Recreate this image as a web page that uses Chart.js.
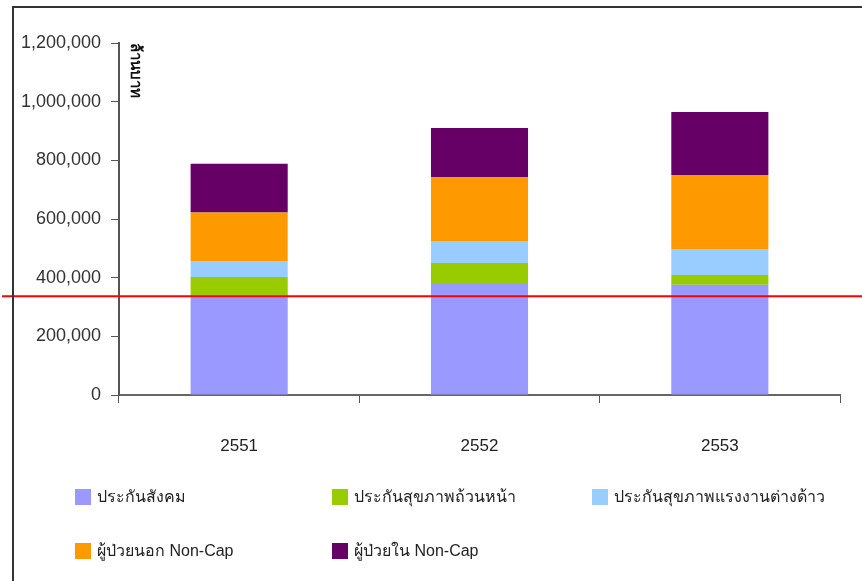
<!DOCTYPE html>
<html>
<head>
<meta charset="utf-8">
<script src="https://cdn.jsdelivr.net/npm/chart.js@4"></script>
<style>
  html, body { margin:0; padding:0; background:#fff; }
  #wrap { position:relative; width:862px; height:581px; overflow:hidden; font-family:"Liberation Sans", Arial, sans-serif; }
  #frame { position:absolute; left:12px; top:6px; width:900px; height:700px; border-left:2px solid #333; border-top:2px solid #333; pointer-events:none; }
  canvas { position:absolute; left:0; top:0; }
  #ytitle { position:absolute; left:136px; top:70px; transform:translate(-50%,-50%) rotate(90deg); font-size:15px; font-weight:bold; color:#111; white-space:nowrap; }
  #legend { position:absolute; left:75px; top:484px; display:grid; grid-template-columns:257px 260px 260px; grid-auto-rows:54px; }
  .item { display:flex; align-items:flex-start; font-size:16px; color:#222; white-space:nowrap; }
  .box { width:16px; height:16px; margin-right:6px; margin-top:5px; flex:none; }
</style>
</head>
<body>
<div id="wrap">
  <canvas id="c" width="862" height="581"></canvas>
  <div id="frame"></div>
  <div id="ytitle"></div>
  <div id="legend"></div>
</div>
<script>
const categories = ['2551', '2552', '2553'];
const seriesNames = ['ประกันสังคม', 'ประกันสุขภาพถ้วนหน้า', 'ประกันสุขภาพแรงงานต่างด้าว', 'ผู้ป่วยนอก Non-Cap', 'ผู้ป่วยใน Non-Cap'];
const socialSecurity = [335000, 382000, 376000];
const universalCoverage = [67000, 68000, 33000];
const foreignWorkers = [55000, 75000, 89000];
const outpatientNonCap = [165000, 218000, 252000];
const inpatientNonCap = [166000, 167000, 215000];
const seriesColors = ['#9999FF', '#99CC00', '#99CCFF', '#FF9900', '#660066'];
const yMin = 0, yMax = 1200000, yStep = 200000;
const referenceLineValue = 337000;
const yAxisTitle = 'ล้านบาท';

const seriesValues = [socialSecurity, universalCoverage, foreignWorkers, outpatientNonCap, inpatientNonCap];

const refLine = {
  id: 'refLine',
  afterDatasetsDraw(chart) {
    const y = chart.scales.y.getPixelForValue(referenceLineValue);
    const ctx = chart.ctx;
    ctx.save();
    ctx.strokeStyle = '#FF0000';
    ctx.lineWidth = 2;
    ctx.beginPath();
    ctx.moveTo(2, y);
    ctx.lineTo(chart.width, y);
    ctx.stroke();
    ctx.restore();
  }
};

const chart = new Chart(document.getElementById('c'), {
  type: 'bar',
  data: {
    labels: categories,
    datasets: seriesValues.map((vals, i) => ({
      label: seriesNames[i],
      data: vals,
      backgroundColor: seriesColors[i],
      borderWidth: 0,
      categoryPercentage: 1,
      barPercentage: 0.404
    }))
  },
  options: {
    responsive: false,
    animation: false,
    devicePixelRatio: 1,
    layout: { padding: { left: 0, top: 43, right: 22, bottom: 0 } },
    plugins: { legend: { display: false }, tooltip: { enabled: false } },
    scales: {
      x: {
        stacked: true,
        grid: { display: true, drawOnChartArea: false, drawTicks: true, tickLength: 8, color: '#555', offset: true },
        border: { display: true, color: '#666', width: 2 },
        ticks: { color: '#222', font: { family: '"Liberation Sans", Arial, sans-serif', size: 17 }, padding: 33 },
        afterFit(s) { s.height = 186; }
      },
      y: {
        stacked: true,
        min: yMin, max: yMax,
        grid: { display: true, drawOnChartArea: false, drawTicks: true, tickLength: 8, color: '#555' },
        border: { display: true, color: '#555', width: 2 },
        ticks: {
          stepSize: yStep,
          color: '#333',
          padding: 10,
          font: { family: '"Liberation Sans", Arial, sans-serif', size: 18 },
          callback: v => Number(v).toLocaleString('en-US')
        },
        afterFit(s) { s.width = 119; }
      }
    }
  },
  plugins: [refLine]
});

document.getElementById('ytitle').textContent = yAxisTitle;
const legend = document.getElementById('legend');
seriesNames.forEach((name, i) => {
  const item = document.createElement('div');
  item.className = 'item';
  const box = document.createElement('span');
  box.className = 'box';
  box.style.background = seriesColors[i];
  const t = document.createElement('span');
  t.textContent = name;
  item.appendChild(box);
  item.appendChild(t);
  legend.appendChild(item);
});
</script>
</body>
</html>
